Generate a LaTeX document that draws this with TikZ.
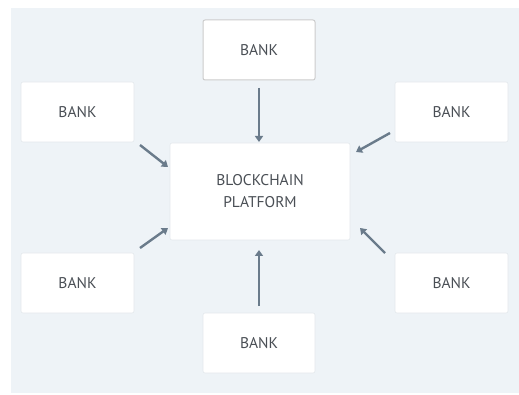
\documentclass[tikz,border=0pt]{standalone}
\usepackage{fontspec}
\setmainfont{PT Sans}
\usetikzlibrary{arrows.meta}
\definecolor{bgc}{HTML}{EEF3F7}
\definecolor{arr}{HTML}{6A7B8B}
\definecolor{txt}{HTML}{4A4F55}
\definecolor{edge}{HTML}{E3E8EC}
\tikzset{
  box/.style={fill=white, draw=edge, line width=0.6pt, rounded corners=2pt, text=txt, font=\fontsize{15.5}{22}\selectfont, align=center, inner sep=0pt},
  topbox/.style={box, draw=black!20, line width=1pt},
  conn/.style={draw=arr, line width=2.4pt, -{Triangle[length=6pt,width=8pt]}}
}
\begin{document}
\begin{tikzpicture}[x=1pt,y=-1pt]
\useasboundingbox (0,0) rectangle (519,395);
\fill[white] (0,0) rectangle (519,395);
\fill[bgc] (11,8) rectangle (519,393);
\node[topbox, minimum width=112pt, minimum height=60pt] (t) at (259,50) {BANK};
\node[box, minimum width=113pt, minimum height=60pt] (lt) at (77.5,112) {BANK};
\node[box, minimum width=113pt, minimum height=60pt] (rt) at (451.5,112) {BANK};
\node[box, minimum width=180pt, minimum height=97pt] (c) at (260,191.5) {BLOCKCHAIN\\PLATFORM};
\node[box, minimum width=113pt, minimum height=60pt] (lb) at (77.5,283) {BANK};
\node[box, minimum width=113pt, minimum height=60pt] (rb) at (451.5,283) {BANK};
\node[box, minimum width=112pt, minimum height=60pt] (b) at (259,343) {BANK};
\coordinate (ts) at (259,88); \coordinate (te) at (259,142);
\coordinate (bs) at (259,306); \coordinate (be) at (259,250);
\coordinate (lts) at (140,145); \coordinate (lte) at (168,167);
\coordinate (lbs) at (140,248); \coordinate (lbe) at (168,228);
\coordinate (rts) at (390,133); \coordinate (rte) at (356,152);
\coordinate (rbs) at (385,253); \coordinate (rbe) at (360,228);
\draw[conn] (ts) -- (te);
\draw[conn] (bs) -- (be);
\draw[conn] (lts) -- (lte);
\draw[conn] (lbs) -- (lbe);
\draw[conn] (rts) -- (rte);
\draw[conn] (rbs) -- (rbe);
\end{tikzpicture}
\end{document}
